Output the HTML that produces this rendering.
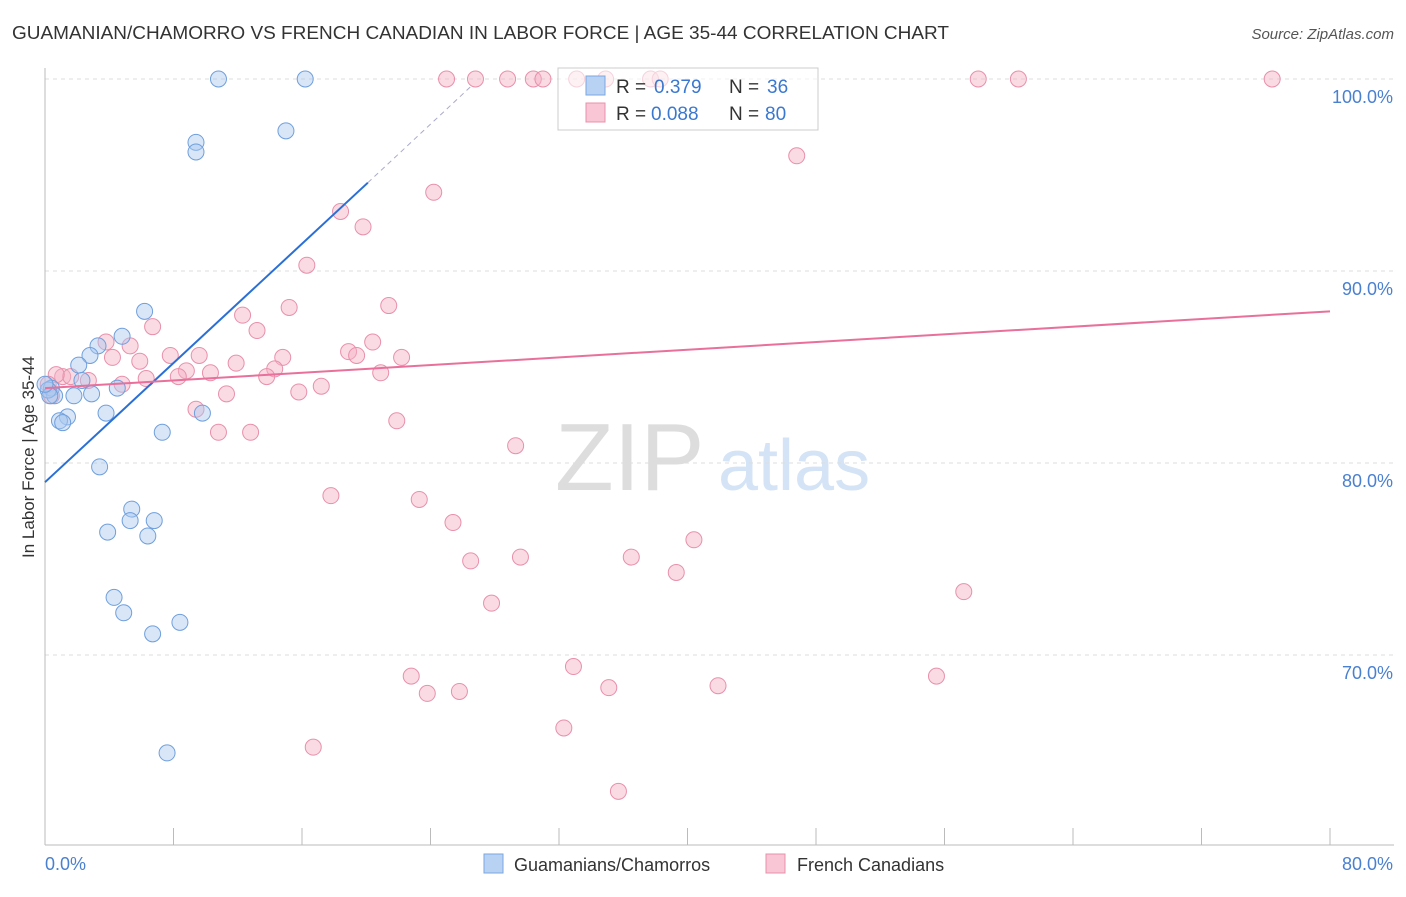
<!DOCTYPE html>
<html><head><meta charset="utf-8"><style>
body{margin:0;background:#fff;font-family:"Liberation Sans",sans-serif;}
svg text{font-family:"Liberation Sans",sans-serif;}
</style></head><body>
<svg id="chart" width="1406" height="892" xmlns="http://www.w3.org/2000/svg">
<text x="12" y="39" font-size="18" fill="#333" textLength="937" lengthAdjust="spacingAndGlyphs">GUAMANIAN/CHAMORRO VS FRENCH CANADIAN IN LABOR FORCE | AGE 35-44 CORRELATION CHART</text>
<text x="1394" y="39" font-size="15" fill="#555" text-anchor="end" font-style="italic">Source: ZipAtlas.com</text>
<text x="555" y="490" font-size="96" fill="#ddd" font-family="Liberation Serif">ZIP</text>
<text x="718" y="490" font-size="72" fill="#d4e3f5">atlas</text>
<g id="grid"></g>
<g id="axes"></g>
<g id="marks"></g>
<text transform="translate(34,457) rotate(-90)" font-size="17" fill="#333" text-anchor="middle">In Labor Force | Age 35-44</text>
<text x="45" y="870" font-size="18" fill="#4a80d0">0.0%</text>
<text x="1393" y="870" font-size="18" fill="#4a80d0" text-anchor="end">80.0%</text>
<g id="legendTop">
<rect x="558" y="68" width="260" height="62" fill="#fff" fill-opacity="0.6" stroke="#ccc"/>
<rect x="586" y="76" width="19" height="19" fill="#b8d2f3" stroke="#7aa7e0"/>
<rect x="586" y="103" width="19" height="19" fill="#f8c6d4" stroke="#e890ab"/>
<text x="616" y="93" font-size="19" fill="#333">R =</text>
<text x="654" y="93" font-size="19" fill="#3a78d0">0.379</text>
<text x="729" y="93" font-size="19" fill="#333">N =</text>
<text x="767" y="93" font-size="19" fill="#3a78d0">36</text>
<text x="616" y="120" font-size="19" fill="#333">R =</text>
<text x="651" y="120" font-size="19" fill="#3a78d0">0.088</text>
<text x="729" y="120" font-size="19" fill="#333">N =</text>
<text x="765" y="120" font-size="19" fill="#3a78d0">80</text>
</g>
<g>
<rect x="484" y="854" width="19" height="19" fill="#b8d2f3" stroke="#7aa7e0"/>
<text x="514" y="871" font-size="18" fill="#333">Guamanians/Chamorros</text>
<rect x="766" y="854" width="19" height="19" fill="#f8c6d4" stroke="#e890ab"/>
<text x="797" y="871" font-size="18" fill="#333">French Canadians</text>
</g>
</svg>
<script>
const blueX=[10.8,16.2,9.4,9.4,15.0,6.2,4.8,3.3,2.8,2.1,2.3,4.5,0.4,0.6,1.8,2.9,3.8,1.4,0.9,1.1,7.3,9.8,3.4,5.4,5.3,6.8,3.9,6.4,4.3,4.9,8.4,6.7,7.6,0.2,0.3,0.0];
const blueY=[100,100,96.7,96.2,97.3,87.9,86.6,86.1,85.6,85.1,84.3,83.9,83.9,83.5,83.5,83.6,82.6,82.4,82.2,82.1,81.6,82.6,79.8,77.6,77.0,77.0,76.4,76.2,73.0,72.2,71.7,71.1,64.9,83.8,83.5,84.1];
const pinkX=[25.0,26.8,28.8,30.4,31.0,33.1,34.9,37.7,38.3,58.1,60.6,76.4,46.8,24.2,18.4,19.8,16.3,15.2,21.4,12.3,13.2,6.7,3.8,5.3,4.2,9.6,14.8,7.8,5.9,11.9,10.3,8.8,20.4,18.9,19.4,22.2,20.9,14.3,13.8,6.3,8.3,4.8,2.7,1.1,1.6,0.7,11.3,15.8,17.2,9.4,21.9,10.8,12.8,29.3,17.8,23.3,25.4,26.5,29.6,36.5,40.4,39.3,27.8,57.2,32.9,22.8,23.8,25.8,35.1,41.9,55.5,32.3,16.7,35.7,0.4,0.2];
const pinkY=[100,100,100,100,100,100,100,100,100,100,100,100,96.0,94.1,93.1,92.3,90.3,88.1,88.2,87.7,86.9,87.1,86.3,86.1,85.5,85.6,85.5,85.6,85.3,85.2,84.7,84.8,86.3,85.8,85.6,85.5,84.7,84.9,84.5,84.4,84.5,84.1,84.3,84.5,84.5,84.6,83.6,83.7,84.0,82.8,82.2,81.6,81.6,80.9,78.3,78.1,76.9,74.9,75.1,75.1,76.0,74.3,72.7,73.3,69.4,68.9,68.0,68.1,68.3,68.4,68.9,66.2,65.2,62.9,83.5,84.1];
const blueTrend=[[0,79.0],[20.1,94.6]];
const blueTrendDash=[[20.1,94.6],[26.5,99.6]];
const pinkTrend=[[0,83.9],[80,87.9]];
const yTicks=[100,90,80,70];
const yTickLabels=["100.0%","90.0%","80.0%","70.0%"];
const xTicks=[0,8,16,24,32,40,48,56,64,72,80];
const NS="http://www.w3.org/2000/svg";
const sx=v=>45+v*(1285/80);
const sy=v=>79+(100-v)*19.2;
function mk(tag,attrs,parent){const e=document.createElementNS(NS,tag);for(const k in attrs)e.setAttribute(k,attrs[k]);document.getElementById(parent).appendChild(e);return e;}
yTicks.forEach((t,i)=>{
 const l=mk('line',{x1:45,x2:1394,y1:sy(t),y2:sy(t),stroke:'#ddd','stroke-dasharray':'4,4'},'grid');
 
 
 const tx=mk('text',{x:1393,y:sy(t)+24,'font-size':18,fill:'#4a80d0','text-anchor':'end'},'grid');
 tx.textContent=yTickLabels[i];
 
 
});
let a=mk('line',{x1:45,x2:45,y1:68,y2:845,stroke:'#bbb'},'axes');


a=mk('line',{x1:45,x2:1394,y1:845,y2:845,stroke:'#bbb'},'axes');


xTicks.forEach(t=>{
 const l=mk('line',{x1:sx(t),x2:sx(t),y1:828,y2:845,stroke:'#bbb'},'axes');
 
 
});
function pts(xs,ys,fill,stroke,name){
 xs.forEach((x,i)=>{
  const c=mk('circle',{cx:sx(x),cy:sy(ys[i]),r:8,fill:fill,'fill-opacity':0.45,stroke:stroke,'stroke-width':1},'marks');
  
  
 });
}
pts(pinkX,pinkY,'#f4b0c4','#e890ab','point-french-canadian');
pts(blueX,blueY,'#a8c8f0','#6f9fdc','point-guamanian');
let t=mk('line',{x1:sx(blueTrend[0][0]),y1:sy(blueTrend[0][1]),x2:sx(blueTrend[1][0]),y2:sy(blueTrend[1][1]),stroke:'#2a6fd6','stroke-width':2},'marks');


t=mk('line',{x1:sx(blueTrendDash[0][0]),y1:sy(blueTrendDash[0][1]),x2:sx(blueTrendDash[1][0]),y2:sy(blueTrendDash[1][1]),stroke:'#aac','stroke-width':1,'stroke-dasharray':'5,4'},'marks');


t=mk('line',{x1:sx(pinkTrend[0][0]),y1:sy(pinkTrend[0][1]),x2:sx(pinkTrend[1][0]),y2:sy(pinkTrend[1][1]),stroke:'#e8709a','stroke-width':2},'marks');


</script>
</body></html>
